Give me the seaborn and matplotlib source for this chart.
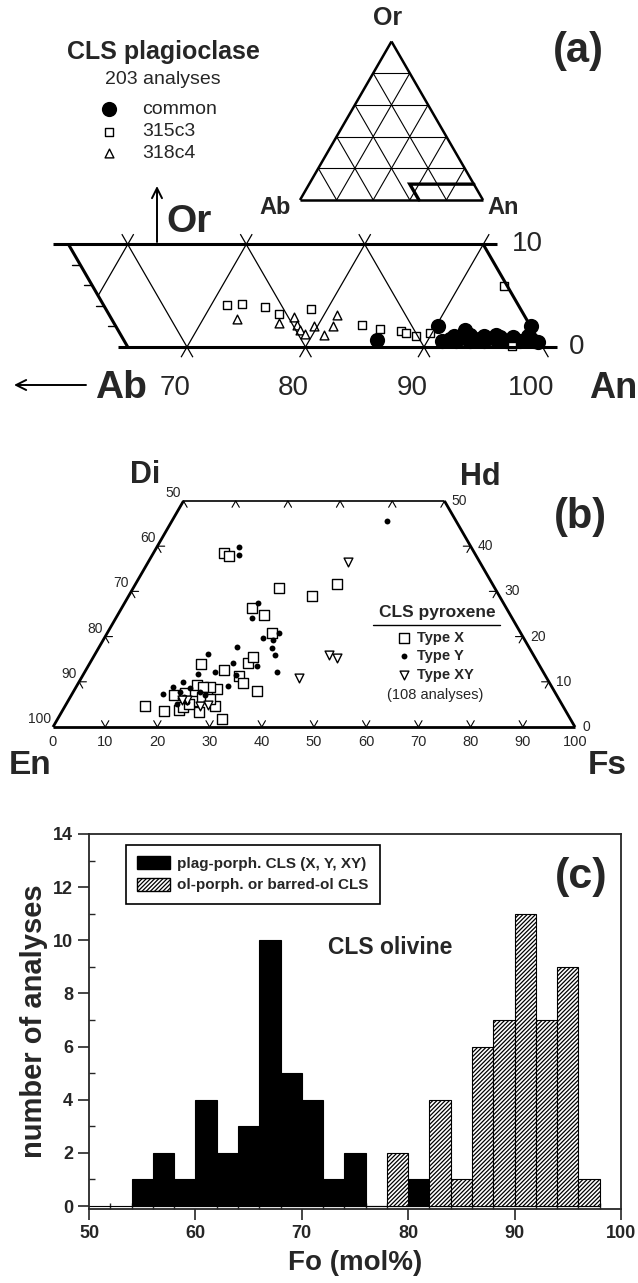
import numpy as np
import pandas as pd
import matplotlib
matplotlib.use('Agg')
import matplotlib.pyplot as plt
from matplotlib.patches import Patch, FancyArrowPatch
import seaborn as sns

sns.set_style('ticks')
plt.rcParams['font.family'] = ['Liberation Sans', 'DejaVu Sans']
plt.rcParams['hatch.linewidth'] = 0.9

W, H = 638, 1283
R3 = np.sqrt(3) / 2

#### data ####
## (a) CLS plagioclase, mol% An and Or
common_an = [85.7, 90.2, 92.6, 95.5, 98.0, 91.2, 91.8, 92.4, 93.0, 93.6, 94.2, 94.8,
             95.4, 96.0, 96.6, 97.2, 97.8, 98.4, 99.0, 99.4, 92.0, 93.3, 94.5, 95.9,
             97.0, 98.2]
common_or = [0.7, 2.0, 1.7, 1.2, 2.0, 0.6, 0.8, 0.6, 0.9, 0.6, 0.8, 0.6,
             0.9, 0.7, 0.6, 0.8, 0.6, 0.7, 0.6, 0.5, 1.1, 1.2, 1.1, 1.0,
             1.0, 1.1]
c315_an = [71.3, 72.5, 74.6, 76.2, 78.6, 83.7, 85.4, 87.3, 87.8, 88.8, 89.8, 93.8, 97.4]
c315_or = [4.1, 4.2, 3.9, 3.2, 3.7, 2.1, 1.8, 1.6, 1.4, 1.1, 1.4, 5.9, 0.1]
c318_an = [72.9, 76.6, 77.6, 78.2, 78.7, 79.3, 79.7, 81.0, 81.3, 81.1]
c318_or = [2.7, 2.3, 2.9, 2.1, 1.7, 1.3, 2.0, 1.2, 2.0, 3.1]
an_ticks = [70, 80, 90, 100]

## (b) CLS pyroxene, mol% Wo and Fs
typex_wo = [38.5, 37.8, 30.8, 29.0, 31.6, 26.3, 24.8, 20.8, 13.9, 12.6, 14.2, 15.5, 11.3,
            9.7, 8.0, 8.4, 8.8, 9.3, 8.8, 7.1, 7.5, 4.6, 3.5, 3.8, 4.4, 3.3, 4.6, 1.8,
            5.8, 6.6, 6.2, 5.1]
typex_fs = [13.6, 14.8, 27.9, 35.1, 38.6, 24.9, 28.0, 31.6, 21.4, 26.5, 30.3, 30.6, 30.0,
            31.5, 35.1, 27.2, 25.7, 23.0, 24.3, 19.7, 21.5, 15.3, 19.5, 22.2, 22.7, 26.3,
            28.7, 31.5, 23.9, 25.2, 27.0, 23.6]
typey_wo = [39.8, 38.1, 45.6, 27.4, 24.1, 19.7, 20.8, 19.2, 17.5, 15.9, 17.7, 16.2, 12.2,
            12.2, 14.2, 13.5, 11.7, 11.5, 9.1, 8.8, 10.0, 7.3, 7.7, 5.5, 6.4, 7.7, 7.1,
            8.6, 5.1, 6.6]
typey_fs = [15.7, 16.6, 41.2, 25.6, 26.0, 30.4, 32.9, 32.5, 33.3, 34.5, 26.4, 21.6, 36.8,
            24.9, 27.4, 32.4, 21.9, 29.4, 29.0, 18.6, 19.9, 17.4, 20.4, 22.9, 21.1, 24.3,
            25.6, 21.9, 21.3, 21.8]
typexy_wo = [36.5, 15.9, 15.3, 10.8, 6.0, 4.6, 4.9, 6.0]
typexy_fs = [38.2, 44.9, 46.8, 41.7, 22.7, 25.9, 27.3, 21.7]
pyx_ticks = list(range(0, 101, 10))

## (c) CLS olivine, Fo histogram (2 mol% bins from 54 to 98)
fo_bin_lo = list(range(54, 98, 2))
plag_counts = [1, 2, 1, 4, 2, 3, 10, 5, 4, 1, 2, 0, 0, 1, 0, 0, 0, 0, 0, 0, 0, 0]
ol_counts = [0, 0, 0, 0, 0, 0, 0, 0, 0, 0, 0, 0, 2, 0, 4, 1, 6, 7, 11, 7, 9, 1]


def tern(right, top):
    # ternary -> cartesian (right apex component, top apex component)
    right = np.asarray(right, float)
    top = np.asarray(top, float)
    return right + top / 2, top * R3


fig = plt.figure(figsize=(W / 100, H / 100), dpi=100)


def px_axes(x0, y0, x1, y1, xlim, ylim):
    ax = fig.add_axes([x0 / W, 1 - y1 / H, (x1 - x0) / W, (y1 - y0) / H])
    ax.set_xlim(*xlim)
    ax.set_ylim(*ylim)
    ax.axis('off')
    return ax


def seg(ax, p, q, lw):
    x, y = tern([p[0], q[0]], [p[1], q[1]])
    ax.plot(x, y, color='black', lw=lw, solid_capstyle='butt', clip_on=False)


# 1. panel (a), zoomed strip Or 0-10
ax_a = px_axes(0, 170, 638, 410, (54.22, 108.06), (-5.32, 14.94))
seg(ax_a, (53.7, 10), (91.2, 10), 2.2)
seg(ax_a, (64.2, 0), (101.2, 0), 2.2)
seg(ax_a, (65, 0), (55, 10), 2.2)
seg(ax_a, (100, 0), (90, 10), 2.2)
seg(ax_a, (101, -1), (100, 0), 0.9)
for an in [70, 80, 90]:
    seg(ax_a, (an, -1), (an, 11), 0.9)
seg(ax_a, (60, 5), (60, 11), 0.9)
for ab in [10, 20, 30]:
    seg(ax_a, (101 - ab, -1), (89 - ab, 11), 0.9)
for o in [2, 4, 6, 8]:
    x, y = tern(65 - o, o)
    ax_a.plot([x - 0.7, x], [y, y], color='black', lw=1.0)
for an in an_ticks:
    ax_a.text(an - 1.0, -3.46, str(an), ha='center', va='center', fontsize=20)
x10, y10 = tern(90, 10)
ax_a.text(x10 + 2.4, y10, '10', ha='left', va='center', fontsize=20)
ax_a.text(102.2, 0, '0', ha='left', va='center', fontsize=20)

xa, ya = tern(common_an, common_or)
sns.scatterplot(x=xa, y=ya, ax=ax_a, color='black', s=120, linewidth=0, clip_on=False)
xa, ya = tern(c315_an, c315_or)
sns.scatterplot(x=xa, y=ya, ax=ax_a, marker='s', color='white', edgecolor='black',
                s=30, linewidth=1.0, clip_on=False)
xa, ya = tern(c318_an, c318_or)
sns.scatterplot(x=xa, y=ya, ax=ax_a, marker='^', color='white', edgecolor='black',
                s=40, linewidth=1.0, clip_on=False)

## inset full triangle
ax_i = px_axes(285, 10, 500, 215, (-8.2, 109.3), (-8.2, 103.8))
seg(ax_i, (0, 0), (100, 0), 1.8)
seg(ax_i, (100, 0), (0, 100), 1.8)
seg(ax_i, (0, 100), (0, 0), 1.8)
for k in [20, 40, 60, 80]:
    seg(ax_i, (0, k), (100 - k, k), 0.8)
    seg(ax_i, (k, 0), (k, 100 - k), 0.8)
    seg(ax_i, (100 - k, 0), (0, 100 - k), 0.8)
x, y = tern([65, 55, 90], [0, 10, 10])
ax_i.plot(x, y, color='black', lw=2.4, solid_joinstyle='miter')

# 2. panel (b), pyroxene quadrilateral
ax_b = px_axes(0, 440, 638, 760, (-10.15, 112.07), (-6.32, 54.98))
seg(ax_b, (0, 0), (100, 0), 2.0)
seg(ax_b, (100, 0), (50, 50), 2.0)
seg(ax_b, (0, 50), (0, 0), 2.0)
seg(ax_b, (0, 50), (50, 50), 1.2)
L = 1.4
for v in range(10, 100, 10):
    ax_b.plot([v - L / 2, v, v + L / 2], [L * R3, 0, L * R3], color='black', lw=0.8)
for fs in range(0, 51, 10):
    x, y = tern(fs, 50)
    ax_b.plot([x - L / 2, x, x + L / 2], [y - L * R3, y, y - L * R3], color='black', lw=0.8)
for wo in [10, 20, 30, 40]:
    x, y = tern(0, wo)
    ax_b.plot([x + L, x, x + L / 2], [y, y, y - L * R3], color='black', lw=0.8)
    x, y = tern(100 - wo, wo)
    ax_b.plot([x - L, x, x - L / 2], [y, y, y - L * R3], color='black', lw=0.8)
for v in pyx_ticks:
    ax_b.text(v, -2.9, str(v), ha='center', va='center', fontsize=10.5)
for en in range(50, 101, 10):
    x, y = tern(0, 100 - en)
    ax_b.text(x - 0.4, y + 0.2, str(en), ha='right', va='bottom', fontsize=10)
for wo in range(0, 51, 10):
    x, y = tern(100 - wo, wo)
    ax_b.text(x + 1.4, y, str(wo), ha='left', va='center', fontsize=10)

xb, yb = tern(typex_fs, typex_wo)
sns.scatterplot(x=xb, y=yb, ax=ax_b, marker='s', color='white', edgecolor='black',
                s=49, linewidth=1.0, clip_on=False)
xb, yb = tern(typey_fs, typey_wo)
sns.scatterplot(x=xb, y=yb, ax=ax_b, color='black', s=18, linewidth=0, clip_on=False)
xb, yb = tern(typexy_fs, typexy_wo)
sns.scatterplot(x=xb, y=yb, ax=ax_b, marker='v', color='white', edgecolor='black',
                s=40, linewidth=1.0, clip_on=False)

# 3. panel (c), olivine histogram
ax_c = fig.add_axes([89 / W, 1 - 1209 / H, 532 / W, 375 / H])
hist_df = pd.DataFrame({'fo': [b + 1 for b in fo_bin_lo], 'plag': plag_counts,
                        'ol': ol_counts})
sns.histplot(data=hist_df, x='fo', weights='plag', binwidth=2, binrange=(54, 98),
             ax=ax_c, color='black', alpha=1, edgecolor='black', linewidth=0.8)
sns.histplot(data=hist_df, x='fo', weights='ol', binwidth=2, binrange=(54, 98),
             ax=ax_c, color='white', alpha=1, edgecolor='black', linewidth=0.8,
             hatch='////////')
ax_c.plot([50, 54], [0, 0], color='black', lw=0.8)
ax_c.set_xlim(50, 100)
ax_c.set_ylim(-0.11, 14)
ax_c.set_xticks(range(50, 101, 10))
ax_c.set_xticks(range(50, 101, 2), minor=True)
ax_c.set_yticks(range(0, 15, 2))
ax_c.set_yticks(range(1, 15, 2), minor=True)
ax_c.tick_params(axis='both', which='major', direction='out', length=8, width=1.2,
                 labelsize=13)
ax_c.tick_params(axis='both', which='minor', direction='in', length=4, width=1.0)
for lab in ax_c.get_xticklabels() + ax_c.get_yticklabels():
    lab.set_fontweight('bold')
for sp in ax_c.spines.values():
    sp.set_linewidth(1.3)
ax_c.set_xlabel('Fo (mol%)', fontsize=20, fontweight='bold', va='center')
ax_c.set_ylabel('number of analyses', fontsize=21, fontweight='bold', va='center')
ax_c.xaxis.set_label_coords(0.5, -0.144)
ax_c.yaxis.set_label_coords(-0.103, 0.5)
handles = [Patch(facecolor='black', edgecolor='black'),
           Patch(facecolor='white', edgecolor='black', hatch='////////')]
leg = ax_c.legend(handles, ['plag-porph. CLS (X, Y, XY)', 'ol-porph. or barred-ol CLS'],
                  loc='upper left', bbox_to_anchor=(0.0695, 0.971), frameon=True,
                  fancybox=False, edgecolor='black', framealpha=1,
                  prop=dict(weight='bold', size=11), handlelength=2.1,
                  handleheight=0.9, borderpad=0.75, labelspacing=0.45,
                  handletextpad=0.5, borderaxespad=0)
leg.get_frame().set_linewidth(1.2)

# 4. labels in figure pixels
ov = fig.add_axes([0, 0, 1, 1])
ov.set_xlim(0, W)
ov.set_ylim(H, 0)
ov.axis('off')

def big(x, y, s, size, weight='bold', **kw):
    ov.text(x, y, s, fontsize=size, fontweight=weight, ha=kw.pop('ha', 'center'),
            va=kw.pop('va', 'center'), **kw)

def arrow(p, q):
    ov.add_patch(FancyArrowPatch(p, q, arrowstyle='->', mutation_scale=18, lw=1.4,
                                 color='black', shrinkA=0, shrinkB=0))

## (a)
big(163, 52, 'CLS plagioclase', 18)
big(163, 80, '203 analyses', 14, weight='normal')
ov.scatter([109], [109], s=120, color='black', linewidth=0)
ov.scatter([109], [132], s=30, marker='s', color='white', edgecolor='black', linewidth=1.0)
ov.scatter([109], [153], s=40, marker='^', color='white', edgecolor='black', linewidth=1.0)
big(142, 109, 'common', 14, weight='normal', ha='left')
big(142, 132, '315c3', 14, weight='normal', ha='left')
big(142, 153, '318c4', 14, weight='normal', ha='left')
big(388, 18, 'Or', 18)
big(275, 208, 'Ab', 17)
big(503, 208, 'An', 17)
big(578, 51, '(a)', 30)
big(166, 222, 'Or', 28, ha='left')
big(147, 388, 'Ab', 28, ha='right')
big(589, 388, 'An', 26, ha='left')
arrow((157, 242), (157, 186))
arrow((86, 385), (14, 385))

## (b)
big(145, 475, 'Di', 22)
big(480, 477, 'Hd', 22)
big(580, 517, '(b)', 30)
big(30, 765, 'En', 24)
big(607, 765, 'Fs', 24)
big(437, 612, 'CLS pyroxene', 12.5)
ov.plot([373, 500], [625, 625], color='black', lw=1.0)
ov.scatter([404], [638], s=49, marker='s', color='white', edgecolor='black', linewidth=1.0)
ov.scatter([404], [656], s=18, color='black', linewidth=0)
ov.scatter([404], [675], s=40, marker='v', color='white', edgecolor='black', linewidth=1.0)
big(417, 638, 'Type X', 10.5, ha='left')
big(417, 656, 'Type Y', 10.5, ha='left')
big(417, 675, 'Type XY', 10.5, ha='left')
big(435, 695, '(108 analyses)', 10.5, weight='normal')

## (c)
big(581, 877, '(c)', 31)
big(390, 947, 'CLS olivine', 16.5)

fig.savefig('out.png', dpi=100)
